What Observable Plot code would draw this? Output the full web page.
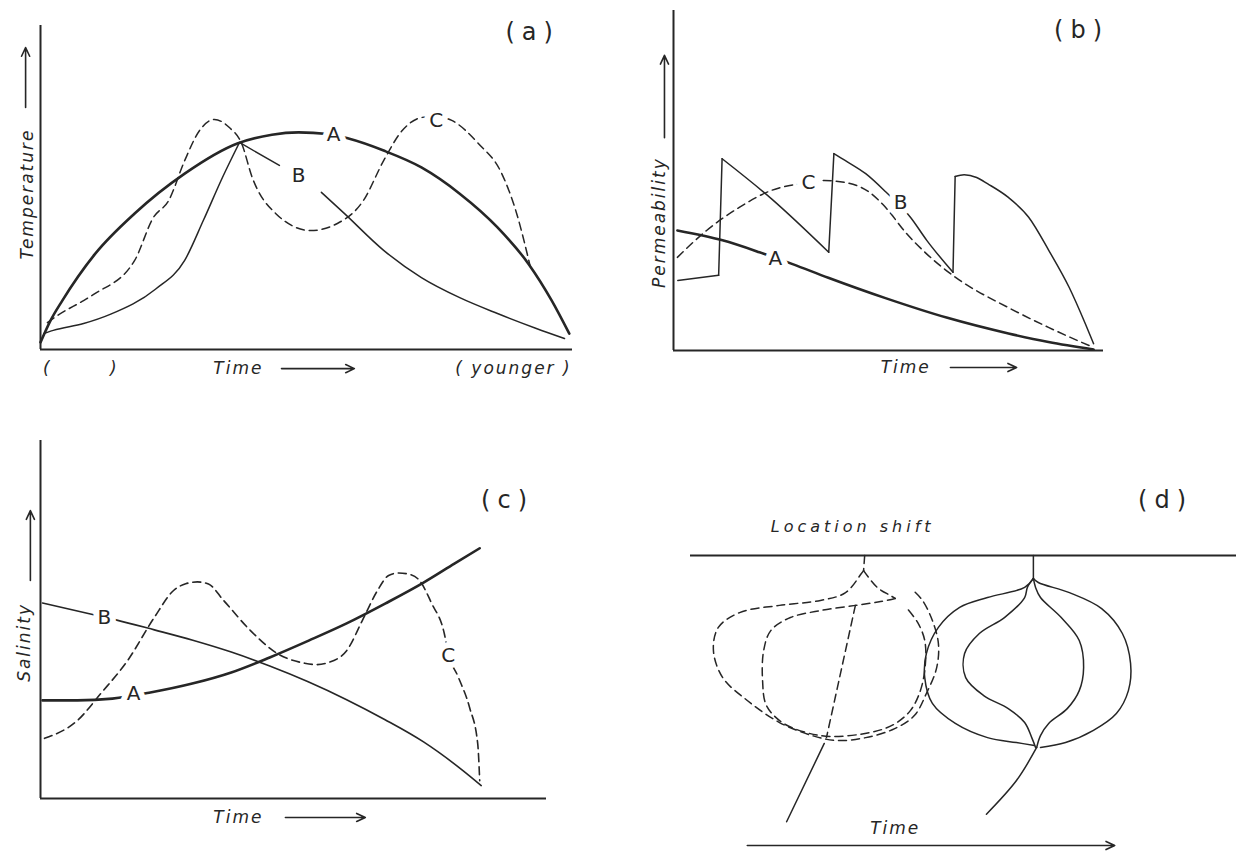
<!DOCTYPE html>
<html><head><meta charset="utf-8">
<script src="https://cdn.jsdelivr.net/npm/d3@7"></script>
<script src="https://cdn.jsdelivr.net/npm/@observablehq/plot@0.6"></script>
<style>
html,body{margin:0;padding:0;background:#fff;}
#fig{position:relative;width:1236px;height:853px;overflow:hidden;background:#fff;}
#fig svg{position:absolute;left:0;top:0;}
</style></head><body><div id="fig"></div>
<script>
// ---------- Panel (a): Temperature vs Time (time 0-100, value 0-100) ----------
const aCurveA = [[0,2.2],[1.9,9.0],[4.1,15.1],[10.3,29.6],[17.7,42.0],[27.1,54.3],[37.0,63.6],[43.5,66.3],[48.5,67.0],[54.0,66.5],[57.9,65.1],[64.5,61.4],[71.6,56.2],[78.8,48.1],[85.9,37.7],[91.7,26.5],[96.1,15.1],[99.4,4.9]];
const aCurveBrise = [[0.6,4.9],[2.4,5.9],[8.1,8.0],[13.2,10.9],[21.6,18.6],[27.1,27.5],[30.6,39.8],[34.2,53.1],[37.4,63.9]];
const aCurveBdrop = [[37.4,63.9],[44.9,56.8]];
const aCurveBtail = [[52.8,48.5],[57.1,42.0],[64.5,30.6],[71.6,22.2],[78.8,16.0],[85.9,11.1],[93.2,6.5],[98.5,3.4]];
const aCurveC = [[1.3,8.3],[3.2,10.5],[8.1,15.1],[10.3,17.3],[17.7,27.5],[21.2,40.7],[24.1,46.0],[27.1,58.3],[29.9,67.6],[32.7,71.0],[35.5,68.5],[37.8,63.6],[39.8,53.1],[44.2,42.0],[50.8,36.7],[55.8,38.9],[60.7,46.0],[64.5,58.3],[68.0,67.6],[71.6,71.6],[74.1,72.0],[77.3,70.7],[82.3,63.6],[86.7,54.3],[89.5,42.0],[92.0,26.0]];
const aCurveLabels = [{label:"A",t:55.1,v:66.4},{label:"B",t:48.5,v:53.7},{label:"C",t:74.4,v:70.7}];
const aTexts = [{label:"(a)",t:92.5,v:98,size:24,style:"normal",rot:0},
  {label:"Temperature",t:-2.4,v:48,size:17,style:"italic",rot:-90},
  {label:"Time",t:37.2,v:-5.9,size:17,style:"italic",rot:0},
  {label:"(",t:1.1,v:-5.9,size:17,style:"italic",rot:0},
  {label:")",t:13.7,v:-5.9,size:17,style:"italic",rot:0},
  {label:"( younger )",t:88.9,v:-5.9,size:17,style:"italic",rot:0}];
const aArrows = [{t1:45.3,v1:-5.9,t2:59.0,v2:-5.9},{t1:-2.8,v1:74.7,t2:-2.8,v2:93.2}];

// ---------- Panel (b): Permeability vs Time ----------
const bCurveA = [[0.9,35.3],[11.4,32.4],[20.0,28.9],[27.7,25.4],[36.0,21.4],[49.3,15.4],[63.7,9.6],[77.9,5.0],[87.2,2.5],[97.7,0.3]];
const bCurveBbase = [[1.0,20.6],[10.5,22.1]];
const bCurveBjump1 = [[10.5,22.1],[11.3,56.4]];
const bCurveBfall1 = [[11.3,56.4],[22.8,44.6],[36.1,28.9]];
const bCurveBjump2 = [[36.1,28.9],[37.3,57.9]];
const bCurveBfall2 = [[37.3,57.9],[39.9,55.9],[44.7,52.0],[49.4,46.6],[55.1,39.2],[58.9,32.4],[65.0,23.0]];
const bCurveBjump3 = [[65.0,23.0],[65.5,51.2]];
const bCurveBfall3 = [[65.5,51.2],[67.6,51.7],[70.5,50.9],[73.1,49.0],[77.8,45.1],[82.6,39.2],[87.3,29.4],[92.0,18.6],[95.8,7.8],[97.7,2.0]];
const bCurveC = [[0.9,27.4],[7.7,35.3],[15.3,42.1],[22.8,47.1],[31.4,49.4],[35.1,50.0],[40.0,49.4],[45.6,46.5],[49.3,42.1],[54.2,34.4],[58.8,28.5],[65.6,21.5],[77.9,12.6],[87.2,6.8],[94.0,2.9],[97.7,0.9]];
const bCurveLabels = [{label:"A",t:23.7,v:27.0},{label:"B",t:52.8,v:43.5},{label:"C",t:31.4,v:49.4}];
const bTexts = [{label:"(b)",t:94.9,v:94.1,size:24,style:"normal",rot:0},
  {label:"Permeability",t:-3.3,v:37.6,size:17,style:"italic",rot:-90},
  {label:"Time",t:54.0,v:-5.0,size:17,style:"italic",rot:0}];
const bArrows = [{t1:64.4,v1:-5.0,t2:79.8,v2:-5.0},{t1:-2.1,v1:62.6,t2:-2.1,v2:86.8}];

// ---------- Panel (c): Salinity vs Time ----------
const cCurveA = [[0.4,27.4],[7.3,27.4],[14.2,27.9],[21.7,29.6],[30.0,32.1],[37.7,35.2],[45.3,39.4],[53.0,44.1],[60.5,48.9],[68.2,54.5],[75.7,60.3],[81.8,65.6],[86.8,69.9]];
const cCurveB = [[0.4,54.6],[10.3,51.4],[14.9,49.9],[22.5,47.1],[30.1,44.2],[37.7,40.9],[45.3,37.0],[52.9,32.6],[60.5,27.6],[68.1,22.0],[75.7,15.8],[83.3,8.0],[87.1,3.6]];
const cCurveC = [[0.8,16.8],[7.3,21.8],[11.9,29.3],[17.2,38.5],[22.5,50.6],[26.3,58.1],[28.7,60.0],[31.0,60.5],[33.2,59.9],[36.2,55.3],[41.5,46.9],[46.8,40.5],[52.2,37.8],[54.5,37.4],[56.7,37.9],[60.5,41.3],[63.6,49.7],[66.6,58.1],[68.8,62.3],[70.8,63.0],[72.7,62.7],[74.9,60.9],[77.3,54.5],[79.8,46.1],[80.6,40.5],[82.6,33.8],[84.8,25.4],[86.4,15.4],[86.8,5.0]];
const cCurveLabels = [{label:"A",t:18.4,v:29.3},{label:"B",t:12.6,v:50.6},{label:"C",t:80.6,v:39.9}];
const cTexts = [{label:"(c)",t:92.3,v:83.2,size:24,style:"normal",rot:0},
  {label:"Salinity",t:-3.2,v:43.6,size:17,style:"italic",rot:-90},
  {label:"Time",t:39.1,v:-5.3,size:17,style:"italic",rot:0}];
const cArrows = [{t1:48.4,v1:-5.3,t2:64.2,v2:-5.3},{t1:-2.0,v1:60.9,t2:-2.0,v2:80.4}];

// ---------- Panel (d): location shift diagram (time 0-100, depth 0-100 downward) ----------
const dSolidStem = [[62.8,0],[62.8,7.9]];
const dSolidOuterL = [[62.8,7.9],[61.2,11.0],[54.4,14.5],[49.3,17.9],[45.4,24.8],[43.2,33.8],[42.9,42.1],[44.3,51.0],[48.5,57.9],[54.4,62.8],[59.7,64.5],[63.0,65.5]];
const dSolidOuterR = [[62.8,7.9],[63.7,9.3],[69.4,12.8],[75.3,18.3],[79.1,26.9],[80.6,37.2],[80.2,46.6],[78.0,54.5],[73.8,60.3],[68.7,64.5],[64.1,66.2]];
const dSolidInnerL = [[62.8,7.9],[61.7,11.0],[61.2,14.5],[57.5,21.4],[52.9,26.9],[50.2,33.8],[50.4,42.1],[53.7,48.3],[58.2,52.8],[61.2,57.6],[62.5,62.8],[63.2,66.2]];
const dSolidInnerR = [[62.8,7.9],[63.2,11.0],[64.1,14.5],[67.9,21.4],[71.2,29.3],[72.0,38.6],[71.2,46.6],[69.0,52.8],[65.6,57.9],[64.1,62.1],[63.4,66.2]];
const dSolidTail = [[63.4,66.2],[59.7,77.6],[54.2,89.2]];
const dDashStem = [[31.9,0],[31.7,5.2]];
const dDashOuter = [[31.7,5.2],[31.3,6.2],[28.4,12.8],[23.8,15.5],[16.3,17.2],[9.0,19.7],[5.1,24.8],[4.2,32.8],[5.9,42.1],[10.4,50.0],[16.3,57.6],[22.3,62.1],[26.7,63.8],[32.1,62.8],[37.4,59.7],[41.0,55.2],[43.2,47.6],[45.1,38.6],[45.4,30.3],[44.3,22.4],[42.5,15.5],[41.0,12.4]];
const dDashInnerTop = [[31.7,5.2],[34.2,11.0],[36.6,13.8],[37.5,14.8]];
const dDashInner = [[37.5,14.8],[34.8,15.9],[30.2,17.2],[23.8,19.0],[18.3,21.4],[14.7,25.9],[13.4,32.8],[13.2,43.1],[13.9,51.7],[16.8,57.6],[21.1,61.0],[25.6,62.4],[33.0,61.0],[37.2,58.3],[40.3,53.4],[42.1,46.6],[43.0,37.9],[42.9,29.3],[41.6,23.1],[39.4,17.6]];
const dDashLine = [[30.2,17.2],[24.9,62.8]];
const dSolidTailL = [[24.5,64.8],[17.6,91.8]];
const dTexts = [{label:"(d)",t:87.0,v:-19.0,size:24,style:"normal",rot:0},
  {label:"Location shift",t:29.7,v:-9.7,size:16,style:"italic",rot:0},
  {label:"Time",t:37.5,v:94.1,size:17,style:"italic",rot:0}];
const dArrows = [{t1:10.4,v1:100,t2:77.7,v2:100}];

// ---------- drawing ----------
const W = 1236, H = 853;
const INK = "#262626";
const FONT = "DejaVu Sans, Liberation Sans, sans-serif";

function series(list) { // list of [id, pairs]
  return list.flatMap(([id, arr]) => arr.map(([t, v]) => ({id, t, v})));
}
function solid(data, w, curve = "monotone-x") {
  return Plot.line(data, {x: "t", y: "v", z: "id", stroke: INK, strokeWidth: w, curve, strokeLinecap: "round", strokeLinejoin: "round"});
}
function dashed(data, w, curve = "monotone-x") {
  return Plot.line(data, {x: "t", y: "v", z: "id", stroke: INK, strokeWidth: w, curve, strokeDasharray: "8,5", strokeLinejoin: "round"});
}
function curveLabels(list) {
  return Plot.text(list, {x: "t", y: "v", text: "label", fontSize: 20, fill: INK, stroke: "white", strokeWidth: 12, fontFamily: FONT});
}
function texts(list) {
  return list.map(d => Plot.text([d], {x: "t", y: "v", text: "label", fontSize: d.size, fontStyle: d.style, rotate: d.rot, fill: INK, fontFamily: FONT}));
}
function arrows(list) {
  return Plot.arrow(list, {x1: "t1", y1: "v1", x2: "t2", y2: "v2", stroke: INK, strokeWidth: 1.6, headLength: 9, headAngle: 50});
}
function axes() {
  return [Plot.ruleX([0], {stroke: INK, strokeWidth: 2}), Plot.ruleY([0], {stroke: INK, strokeWidth: 2})];
}
function panel({left, right, top, bottom, reverseY = false, marks}) {
  return Plot.plot({
    width: W, height: H,
    marginLeft: left, marginRight: W - right, marginTop: top, marginBottom: H - bottom,
    x: {domain: [0, 100], axis: null},
    y: {domain: [0, 100], axis: null, reverse: reverseY},
    style: {background: "transparent", overflow: "visible", fontFamily: FONT, color: INK},
    marks
  });
}

const plots = [
  panel({left: 40, right: 572, top: 25, bottom: 349, marks: [
    ...axes(),
    solid(series([["A", aCurveA]]), 2.6),
    solid(series([["B1", aCurveBrise], ["B2", aCurveBdrop], ["B3", aCurveBtail]]), 1.5),
    dashed(series([["C", aCurveC]]), 1.5),
    curveLabels(aCurveLabels),
    ...texts(aTexts),
    arrows(aArrows)
  ]}),
  panel({left: 673, right: 1103, top: 10, bottom: 350, marks: [
    ...axes(),
    solid(series([["A", bCurveA]]), 2.6),
    solid(series([["B0", bCurveBbase], ["J1", bCurveBjump1], ["F1", bCurveBfall1], ["J2", bCurveBjump2], ["F2", bCurveBfall2], ["J3", bCurveBjump3], ["F3", bCurveBfall3]]), 1.5),
    dashed(series([["C", bCurveC]]), 1.5),
    curveLabels(bCurveLabels),
    ...texts(bTexts),
    arrows(bArrows)
  ]}),
  panel({left: 40, right: 546, top: 440, bottom: 798, marks: [
    ...axes(),
    solid(series([["A", cCurveA]]), 2.6),
    solid(series([["B", cCurveB]]), 1.6),
    dashed(series([["C", cCurveC]]), 1.6),
    curveLabels(cCurveLabels),
    ...texts(cTexts),
    arrows(cArrows)
  ]}),
  panel({left: 690, right: 1236, top: 555, bottom: 845, reverseY: true, marks: [
    Plot.ruleY([0], {stroke: INK, strokeWidth: 2}),
    solid(series([["s", dSolidStem], ["ol", dSolidOuterL], ["or", dSolidOuterR], ["il", dSolidInnerL], ["ir", dSolidInnerR], ["t", dSolidTail], ["tl", dSolidTailL]]), 1.5, "catmull-rom"),
    dashed(series([["s", dDashStem], ["o", dDashOuter], ["it", dDashInnerTop], ["i", dDashInner], ["l", dDashLine]]), 1.5, "catmull-rom"),
    ...texts(dTexts),
    arrows(dArrows)
  ]})
];

const fig = document.getElementById("fig");
for (const p of plots) {
  d3.select(p).selectAll("text").each(function () {
    const s = this.textContent;
    if (/^\(.\)$/.test(s)) this.setAttribute("letter-spacing", "7");
    else if (s === "Location shift") this.setAttribute("letter-spacing", "4");
    else if (s.length > 1) this.setAttribute("letter-spacing", "2");
  });
  fig.appendChild(p);
}
</script></body></html>
